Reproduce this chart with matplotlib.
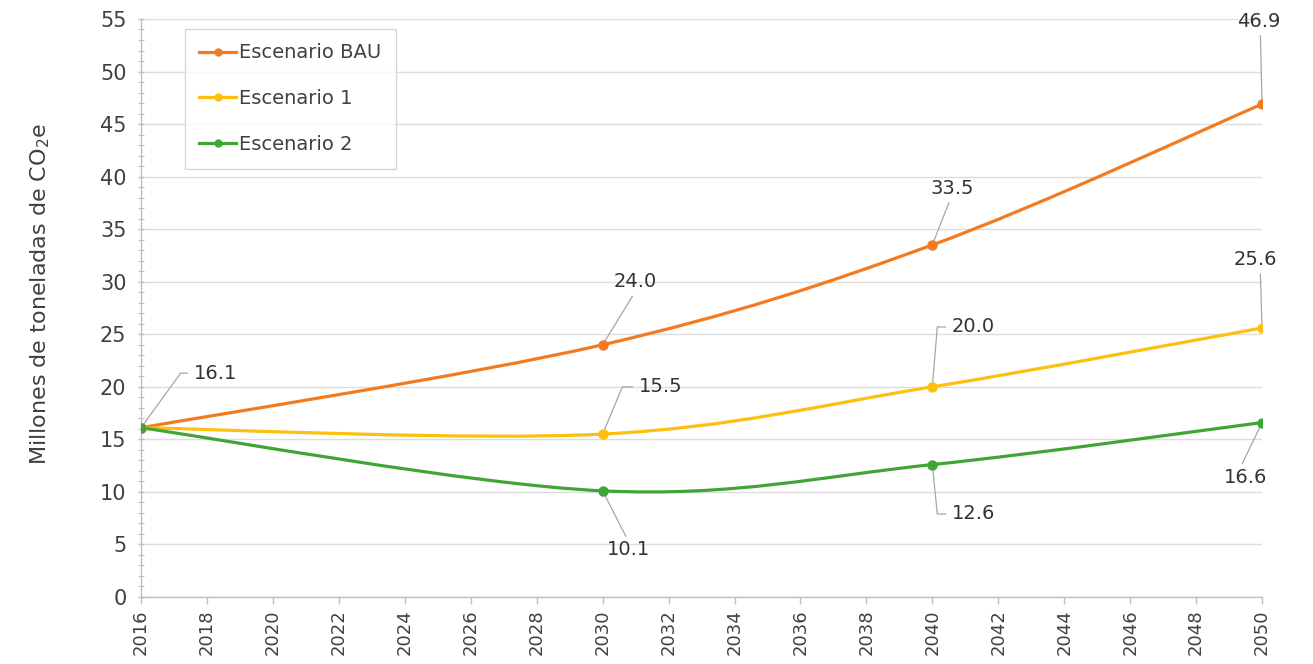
import matplotlib
matplotlib.use("Agg")
import matplotlib.pyplot as plt
from matplotlib.path import Path
from matplotlib.patches import PathPatch
from matplotlib.lines import Line2D
from matplotlib.ticker import MultipleLocator

years = [2016, 2030, 2040, 2050]
bau = [16.1, 24.0, 33.5, 46.9]
esc1 = [16.1, 15.5, 20.0, 25.6]
esc2 = [16.1, 10.1, 12.6, 16.6]
labels = ["Escenario BAU", "Escenario 1", "Escenario 2"]
colors = ["#F47A20", "#FDC010", "#40A536"]
ylabel = "Millones de toneladas de CO$_2$e"

plt.rcParams['font.family'] = ['DejaVu Sans']
plt.rcParams['mathtext.fontset'] = 'dejavusans'

fig = plt.figure(figsize=(13.13, 6.64), dpi=100)
ax = fig.add_axes([0.1074, 0.1009, 0.8538, 0.8705])


def smooth_path(xs, ys):
    pts = list(zip(xs, ys))
    n = len(pts)
    verts = [pts[0]]
    codes = [Path.MOVETO]
    for i in range(n - 1):
        p0 = pts[i - 1] if i > 0 else pts[i]
        p1 = pts[i]
        p2 = pts[i + 1]
        p3 = pts[i + 2] if i + 2 < n else pts[i + 1]
        c1 = (p1[0] + (p2[0] - p0[0]) / 6, p1[1] + (p2[1] - p0[1]) / 6)
        c2 = (p2[0] - (p3[0] - p1[0]) / 6, p2[1] - (p3[1] - p1[1]) / 6)
        verts += [c1, c2, p2]
        codes += [Path.CURVE4] * 3
    return Path(verts, codes)


series = [bau, esc1, esc2]
for vals, col, lab in zip(series, colors, labels):
    ax.add_patch(PathPatch(smooth_path(years, vals), facecolor='none',
                           edgecolor=col, lw=2.3, zorder=3, capstyle='round'))
    ax.plot(years, vals, linestyle='none', marker='o', ms=6.5, color=col, zorder=4)

ax.set_xlim(2016, 2050)
ax.set_ylim(0, 55)
ax.set_xticks(range(2016, 2051, 2))
ax.set_yticks(range(0, 56, 5))
ax.yaxis.set_minor_locator(MultipleLocator(1))
ax.tick_params(axis='x', labelrotation=90, labelsize=13, colors='#BFBFBF',
               labelcolor='#404040', length=5, width=1, pad=4)
ax.tick_params(axis='y', which='major', labelsize=15, colors='#BFBFBF',
               labelcolor='#404040', length=5, width=1, direction='inout', pad=8)
ax.tick_params(axis='y', which='minor', colors='#BFBFBF', length=4, width=0.8,
               direction='inout')
ax.grid(axis='y', which='major', color='#DDDDDD', lw=1)
ax.set_axisbelow(True)
for s in ['top', 'right']:
    ax.spines[s].set_visible(False)
for s in ['left', 'bottom']:
    ax.spines[s].set_color('#BFBFBF')
    ax.spines[s].set_linewidth(1)
ax.set_ylabel(ylabel, fontsize=16, color='#404040')
ax.yaxis.set_label_coords(-0.079, 0.525)

tc = '#333333'
lc = '#A6A6A6'
# (year index, value, text position, elbow point or None)
ann = [
    (0, 16.1, (2017.6, 21.3), (2017.2, 21.3)),
    (1, 24.0, (2031.0, 30.0), None),
    (1, 15.5, (2031.1, 20.0), (2030.6, 20.0)),
    (1, 10.1, (2030.8, 4.5), None),
    (2, 20.0, (2040.6, 25.7), (2040.15, 25.7)),
    (2, 12.6, (2040.6, 7.9), (2040.15, 7.9)),
    (2, 33.5, (2040.6, 38.9), None),
    (3, 46.9, (2049.9, 54.8), None),
    (3, 25.6, (2049.8, 32.1), None),
    (3, 16.6, (2049.5, 11.4), None),
]
for idx, val, tpos, elbow in ann:
    x0 = years[idx]
    if elbow is not None:
        ax.plot([x0, elbow[0], tpos[0] - 0.2], [val, elbow[1], tpos[1]],
                color=lc, lw=0.9, zorder=2, clip_on=False)
        ax.text(tpos[0], tpos[1], f"{val:.1f}", ha='left', va='center',
                fontsize=14, color=tc, zorder=5)
    else:
        ty = tpos[1]
        ey = ty - 1.4 if ty > val else ty + 1.3
        if x0 == 2050:
            ex = x0 - 0.05 if ty > val else tpos[0] - 0.1
        else:
            ex = tpos[0] - 0.1
        ax.plot([x0, ex], [val, ey], color=lc, lw=0.9, zorder=2, clip_on=False)
        ax.text(tpos[0], ty, f"{val:.1f}", ha='center', va='center',
                fontsize=14, color=tc, zorder=5, clip_on=False)

handles = [Line2D([0], [0], color=c, lw=2.3, marker='o', ms=5) for c in colors]
leg = ax.legend(handles, labels, loc='upper left', bbox_to_anchor=(0.039, 0.983),
                fontsize=14, frameon=True, fancybox=False, edgecolor='#CCCCCC',
                handlelength=1.9, handletextpad=0.15, labelspacing=1.38,
                borderpad=0.75, borderaxespad=0)
leg.get_frame().set_linewidth(1)
for t in leg.get_texts():
    t.set_color('#404040')

fig.savefig("out.png", dpi=100, facecolor='white')
